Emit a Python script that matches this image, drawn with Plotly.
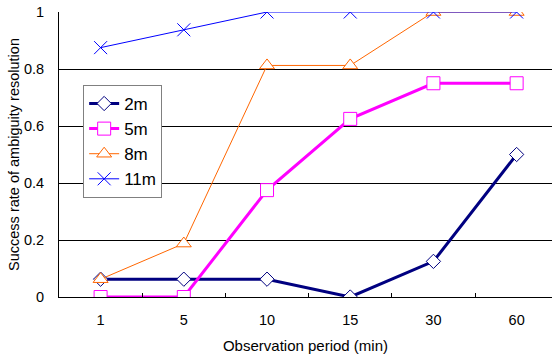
import plotly.graph_objects as go

categories = ["1", "5", "10", "15", "30", "60"]
s2m = [0.0625, 0.0625, 0.0625, 0.0, 0.125, 0.5]
s5m = [0.0, 0.0, 0.375, 0.625, 0.75, 0.75]
s8m = [0.0625, 0.1875, 0.8125, 0.8125, 1.0, 1.0]
s11m = [0.875, 0.9375, 1.0, 1.0, 1.0, 1.0]
y_ticks = [0, 0.2, 0.4, 0.6, 0.8, 1]
y_labels = ["0", "0.2", "0.4", "0.6", "0.8", "1"]

FONT = "Liberation Sans, Arial, sans-serif"

fig = go.Figure()
fig.add_trace(go.Scatter(x=categories, y=s2m, name="2m", mode="lines+markers",
    line=dict(color="#000080", width=3),
    marker=dict(symbol="diamond", size=11, color="white", line=dict(color="#000080", width=1))))
fig.add_trace(go.Scatter(x=categories, y=s5m, name="5m", mode="lines+markers",
    line=dict(color="#FF00FF", width=3),
    marker=dict(symbol="square", size=13, color="white", line=dict(color="#FF00FF", width=1))))
fig.add_trace(go.Scatter(x=categories, y=s8m, name="8m", mode="lines+markers",
    line=dict(color="#FF6600", width=1),
    marker=dict(symbol="triangle-up", size=13, color="white", line=dict(color="#FF6600", width=1))))
fig.add_trace(go.Scatter(x=categories, y=s11m, name="11m", mode="lines+markers",
    line=dict(color="#0000FF", width=1),
    marker=dict(symbol="x-thin", size=13, color="#0000FF", line=dict(color="#0000FF", width=1))))

fig.update_layout(
    width=552, height=356,
    margin=dict(l=59, r=0, t=12, b=59),
    paper_bgcolor="white", plot_bgcolor="white",
    font=dict(family=FONT, size=14.5, color="black"),
    showlegend=True,
    legend=dict(x=0.049, y=0.744, xanchor="left", yanchor="top",
                bgcolor="white", bordercolor="#808080", borderwidth=1,
                font=dict(size=17, family=FONT), tracegroupgap=0),
    xaxis=dict(type="category", range=[-0.5, 5.425], showgrid=False,
               showline=True, linecolor="black", linewidth=1,
               ticks="inside", ticklen=4, tickcolor="black", tickson="boundaries",
               tickfont=dict(size=14.5), ticklabelstandoff=10,
               title=dict(text="Observation period (min)", font=dict(size=15), standoff=13)),
    yaxis=dict(range=[0, 1], tickvals=y_ticks, ticktext=y_labels,
               showgrid=True, gridcolor="black", gridwidth=1,
               showline=True, linecolor="black", linewidth=1, zeroline=False,
               ticks="", tickfont=dict(size=14.5), ticklabelstandoff=11,
               title=dict(text="Success rate of ambiguity resolution", font=dict(size=14.5), standoff=0)),
)

fig.write_html("out.html", config={"displayModeBar": False},
               post_script="document.body.style.margin='0';document.body.style.overflow='hidden';")
